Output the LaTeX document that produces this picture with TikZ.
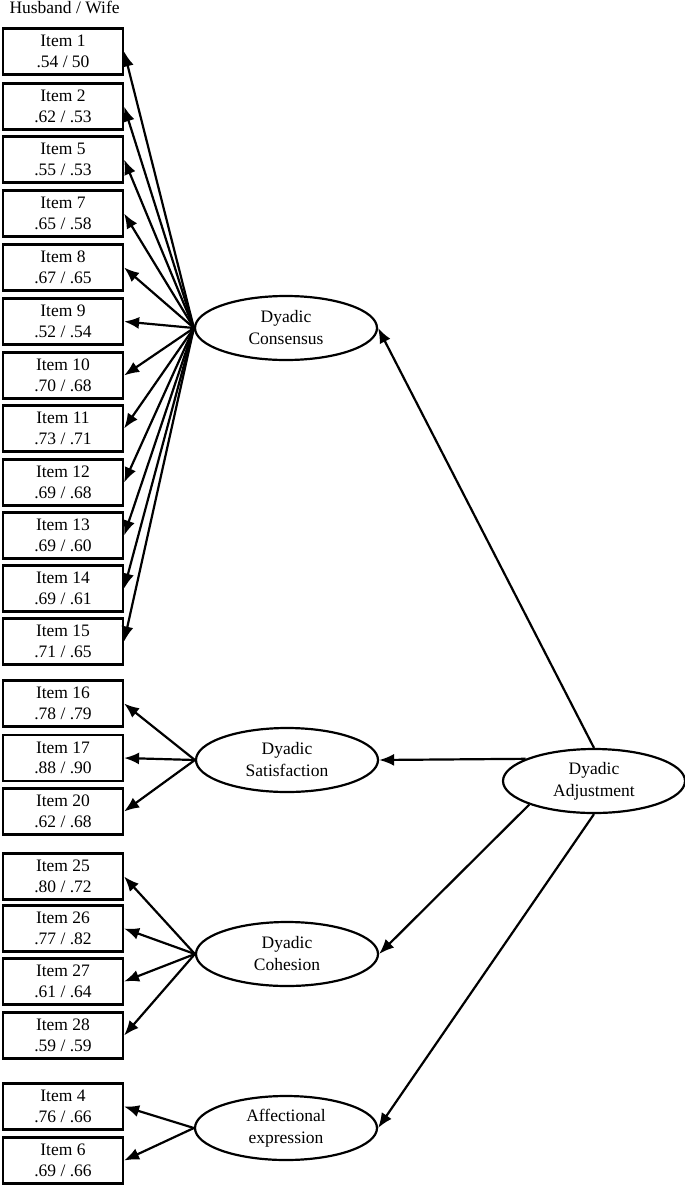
\documentclass[tikz,border=0pt]{standalone}
\usepackage{fontspec}
\setmainfont{Liberation Serif}
\usetikzlibrary{shapes.geometric,arrows.meta}
\begin{document}
\begin{tikzpicture}[x=1pt,y=-1pt,
  itembox/.style={draw,line width=2.2pt,minimum width=120pt,minimum height=46pt,inner sep=0pt,align=center,font=\fontsize{17.5}{20.5}\selectfont},
  latent/.style={draw,ellipse,line width=2.2pt,minimum width=182pt,minimum height=64pt,inner sep=0pt,align=center,font=\fontsize{17.5}{22}\selectfont},
  path/.style={line width=2.2pt,-{Latex[length=15pt,width=12pt]}}]
\path[use as bounding box,fill=white] (0,0) rectangle (685,1186);
\node[anchor=base west,font=\fontsize{17.5}{20}\selectfont] (hw) at (6,13) {Husband / Wife};
% items
\node[itembox] (i1)  at (63,51.5)  {Item 1\\.54 / 50};
\node[itembox] (i2)  at (63,106.5) {Item 2\\.62 / .53};
\node[itembox] (i5)  at (63,159.5) {Item 5\\.55 / .53};
\node[itembox] (i7)  at (63,213.5) {Item 7\\.65 / .58};
\node[itembox] (i8)  at (63,267.5) {Item 8\\.67 / .65};
\node[itembox] (i9)  at (63,321.5) {Item 9\\.52 / .54};
\node[itembox] (i10) at (63,375.5) {Item 10\\.70 / .68};
\node[itembox] (i11) at (63,428.5) {Item 11\\.73 / .71};
\node[itembox] (i12) at (63,482.5) {Item 12\\.69 / .68};
\node[itembox] (i13) at (63,535.5) {Item 13\\.69 / .60};
\node[itembox] (i14) at (63,588.5) {Item 14\\.69 / .61};
\node[itembox] (i15) at (63,641.5) {Item 15\\.71 / .65};
\node[itembox] (i16) at (63,703.5) {Item 16\\.78 / .79};
\node[itembox] (i17) at (63,758)   {Item 17\\.88 / .90};
\node[itembox] (i20) at (63,811.5) {Item 20\\.62 / .68};
\node[itembox] (i25) at (63,876.5) {Item 25\\.80 / .72};
\node[itembox] (i26) at (63,928.5) {Item 26\\.77 / .82};
\node[itembox] (i27) at (63,981.5) {Item 27\\.61 / .64};
\node[itembox] (i28) at (63,1035.5) {Item 28\\.59 / .59};
\node[itembox] (i4)  at (63,1106.5) {Item 4\\.76 / .66};
\node[itembox] (i6)  at (63,1160.5) {Item 6\\.69 / .66};
% latent
\node[latent] (cons) at (286,328)  {Dyadic\\Consensus};
\node[latent] (sat)  at (287,760)  {Dyadic\\Satisfaction};
\node[latent] (coh)  at (287,954)  {Dyadic\\Cohesion};
\node[latent] (aff)  at (286,1128) {Affectional\\expression};
\node[latent] (adj)  at (594,781)  {Dyadic\\Adjustment};
% consensus loadings
\foreach \t in {i1,i2,i5,i7,i8,i9,i10,i11,i12,i13,i14,i15}
  \draw[path] (cons.west) -- (\t.east);
% satisfaction
\foreach \t in {i16,i17,i20}
  \draw[path] (sat.west) -- (\t.east);
% cohesion
\foreach \t in {i25,i26,i27,i28}
  \draw[path] (coh.west) -- (\t.east);
% affectional
\foreach \t in {i4,i6}
  \draw[path] (aff.west) -- (\t.east);
% second order
\draw[path] (adj.north) -- (cons.east);
\draw[path] (adj.162) -- (sat.east);
\draw[path] (adj.200) -- (coh.east);
\draw[path] (adj.south) -- (aff.east);
\end{tikzpicture}
\end{document}
